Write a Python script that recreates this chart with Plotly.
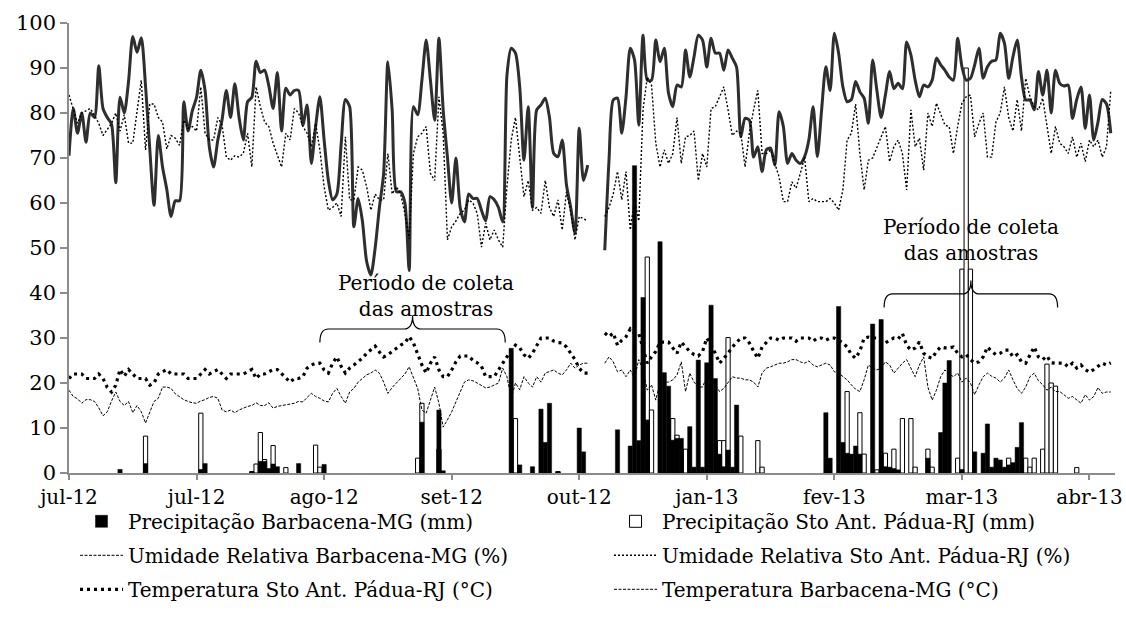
import plotly.graph_objects as go

# ---------------------------------------------------------------- axis labels
TICK_DAYS = [0, 30, 60, 90, 120, 150, 180, 210, 240]
TICK_LABELS = ["jul-12", "jul-12", "ago-12", "set-12", "out-12",
               "jan-13", "fev-13", "mar-13", "abr-13"]

# two observation periods (day index along the category axis)
P1_START = 0      # first period: days 0..122
P2_START = 126    # second period: days 126..245
X_MAX = 246

# ---------------------------------------------------------------- relative humidity (%)
UR_BARB_P1 = [
    70.5, 81, 75.5, 80, 73.5, 80, 79, 90.5, 81, 79,
    77.5, 64.5, 83.5, 80, 87, 97, 93.5, 96.7, 86, 72,
    59.5, 75, 68, 63, 57, 60.5, 60.5, 82.5, 76, 80.5,
    83.5, 89.5, 85, 72.5, 68, 74, 78.5, 85, 79, 86.5,
    79, 74, 82.5, 83.5, 91.5, 89, 89.5, 86, 81, 89,
    76, 85.5, 84, 85, 85, 77.3, 81.8, 68.8, 77, 83.6,
    74, 65, 60.7, 62, 73, 83, 81.4, 54.7, 61, 56,
    47, 44, 50, 59, 66.6, 91.4, 80.7, 62.5, 62.5, 60,
    45, 81.4, 79.6, 87.3, 96.2, 87.3, 78.4, 96.6, 80.7, 70.2,
    60, 70, 59, 55.8, 62, 61, 61, 58.4, 56, 61.4,
    60.7, 59, 55.8, 88.4, 94.4, 93.3, 85.8, 69.5, 81.4, 59,
    80.7, 81.8, 83.3, 79, 71, 70.3, 74, 64, 59, 53.3,
    76.6, 65, 68.4,
]
UR_BARB_P2 = [
    49.5, 69.5, 82.9, 83.3, 75.5, 83.6, 94.4, 91.8, 77.3, 97.3,
    87.3, 87.3, 96.2, 91.4, 94.4, 84.4, 81.4, 86.2, 85.8, 94,
    88, 92.5, 97.3, 96.2, 90.2, 96.6, 93.3, 93.3, 89.5, 94,
    92.2, 90.2, 74.7, 78.8, 78.4, 70.2, 72.5, 67, 71.8, 72.2,
    68.4, 80.3, 77, 68.8, 71, 69.5, 68.8, 70.3, 74, 81.4,
    70.3, 80.7, 90.3, 85, 97.7, 93.3, 85.8, 82.5, 83, 87,
    84.7, 83.3, 77.7, 91.8, 85, 79, 84, 89.2, 85.4, 86.6,
    85.4, 95.8, 92.9, 87.3, 83.6, 86.2, 85.8, 87.3, 92.2, 90.7,
    89.5, 88, 87.3, 96.6, 90.3, 87.3, 87.7, 90.7, 94.4, 87.7,
    90.3, 91.5, 91.8, 97.7, 95.5, 87.7, 92.5, 96.2, 88, 82.9,
    82.9, 80.7, 89.2, 84, 89.5, 80, 89.5, 86.6, 86, 86.2,
    78.8, 83, 85.8, 76.6, 84, 74, 78, 83, 82, 75.5,
]
UR_PADUA_P1 = [
    84, 80.7, 77.7, 80, 80.5, 81, 79.5, 77.7, 75, 76.5,
    77.7, 80, 76, 79.6, 73.3, 73.3, 80, 87.3, 71.8, 82,
    82, 79, 78, 72, 75, 74.4, 72.8, 78.4, 76.6, 77,
    76, 85.8, 75.5, 74, 74, 79, 77.3, 70.2, 69.5, 70.5,
    70.2, 71, 75.5, 68, 85.8, 81.4, 78, 77, 73.3, 70.5,
    68, 75.5, 74, 81, 80, 77, 75.5, 72.5, 77.7, 71.8,
    63.6, 58.4, 59, 60, 57, 74.7, 60.7, 60.7, 68, 67.3,
    63.6, 58.4, 62, 60.7, 60.7, 71, 62, 63.6, 62, 57.7,
    52, 71, 74.7, 75.5, 77, 66.6, 65, 83.6, 75.5, 51.8,
    54.7, 56, 57.7, 58.4, 60.7, 60, 57.7, 50.2, 55.5, 51.8,
    54, 51.8, 50.2, 63.6, 74, 79, 69.5, 61.4, 65, 58.4,
    59, 57.7, 65, 59, 57, 60.7, 54, 62.5, 58, 51.8,
    57, 56.5, 56,
]
UR_PADUA_P2 = [
    57, 59, 62, 67, 60.7, 67, 54, 60.7, 56, 80.7,
    88, 86.2, 73.3, 68, 71.8, 68.8, 71, 79, 68.8, 74.7,
    75, 76, 65, 71, 68, 81, 81.4, 83.6, 85.8, 80.7,
    75, 76, 75.5, 68, 75.5, 80.7, 85, 71, 71, 71.8,
    68.8, 65.8, 60.3, 60.3, 64.7, 63.3, 66.6, 70.2, 60.3, 61,
    60.3, 60.3, 60.3, 61, 60, 58.4, 62.9, 74, 75.5, 82,
    71, 62.9, 69.5, 70, 72.5, 74.7, 77, 69.2, 72.5, 74,
    71, 62.9, 80.7, 72.5, 74.4, 67.3, 80, 77, 82.2, 79.6,
    77.3, 77, 71, 77, 82.2, 83.6, 84, 74.7, 77.7, 80,
    70.2, 70.2, 78, 80, 85.8, 79, 76, 83, 76, 87.7,
    83.6, 81.4, 80.7, 83.3, 77, 71, 77, 73.3, 72.5, 71,
    74.7, 70.2, 73.3, 69.2, 74, 72.5, 74, 70.2, 72.5, 85,
]

# ---------------------------------------------------------------- temperature (°C)
TEMP_PADUA_P1 = [
    21, 22, 22, 22, 21, 21, 21, 22, 21, 19,
    18, 19.5, 23, 21.5, 23, 22, 21, 21, 21, 19.5,
    20, 22, 22.5, 23, 22, 22, 22, 22, 21, 21,
    21, 22, 23, 22, 22.5, 23, 22, 21, 22, 22,
    22, 22, 22.5, 23, 21, 22, 22, 22.5, 23, 23,
    22, 21, 20.2, 21, 21, 21.4, 23.3, 24, 24.4, 24.4,
    22.9, 22.2, 24.4, 25.8, 23.7, 22.2, 23.3, 24, 24.7, 25.5,
    26.6, 27.3, 28.2, 26.9, 25.8, 26.3, 27, 27.8, 28.4, 28.9,
    30.3, 28.9, 26.3, 24, 22.2, 24.4, 25.8, 22.9, 21.4, 21.4,
    22.9, 24.7, 26, 26, 26, 25, 24.5, 23.7, 21.4, 21.4,
    21.4, 22.9, 24.4, 26, 27.3, 28.4, 27.8, 26.3, 25.5, 26.6,
    28.4, 30, 30, 30, 29.3, 29, 28.9, 28, 26.6, 25.2,
    23.3, 22.2, 22.2,
]
TEMP_PADUA_P2 = [
    31.1, 30.3, 31.1, 28.4, 29.5, 30.3, 32, 31, 31, 27.8,
    24.4, 25.8, 27, 29.1, 29.1, 29.1, 27.8, 26.6, 29.1, 28,
    27, 26.3, 26, 27, 30, 28.4, 26.6, 24.4, 25.5, 26.6,
    28, 29.1, 30, 30, 28.9, 27.1, 25.5, 28, 29.1, 30,
    30, 29.5, 30, 30, 30, 29.3, 30, 30, 30, 29.3,
    30, 30, 29.5, 30, 30, 29.5, 28.9, 28, 26.3, 25.5,
    27.1, 30, 30.2, 30, 30, 29.3, 28.9, 29.5, 30, 29.8,
    31, 28.4, 27.3, 27.8, 29.1, 26.6, 25.8, 25.5, 27, 28,
    27.8, 27.8, 28, 26.6, 25.8, 26.3, 25.2, 24.4, 24.7, 25.8,
    28, 27, 26.3, 26.6, 27.3, 27.3, 25.8, 26.3, 24.7, 24.4,
    26.3, 28, 25.8, 25.2, 26, 24.5, 24.4, 24.4, 24.4, 23.6,
    24.4, 23.3, 24, 23, 22.4, 23, 23.7, 24.4, 24, 24.5,
]
TEMP_BARB_P1 = [
    18.4, 17, 16.5, 15.5, 16.3, 16.3, 15.9, 14.5, 12.7, 13.6,
    16, 18, 15.9, 15, 15.9, 13.4, 15, 13.6, 11.1, 13.6,
    15.9, 16.6, 19.1, 19.1, 18.8, 17.6, 17, 16.3, 15.9, 15.6,
    15.5, 16, 16.3, 16.8, 17, 16.6, 14, 13.6, 14, 13.4,
    14, 14.4, 14.8, 15, 15.6, 15, 15, 15.6, 14.4, 14.8,
    15, 15.2, 15.3, 15.5, 15.9, 15.8, 16.8, 17.7, 17, 16.6,
    16, 15.8, 17.7, 18.8, 17, 15.5, 18, 18.8, 20.2, 21,
    21.8, 22.2, 22.9, 22.2, 20.2, 17.7, 19, 20, 21, 22,
    23.6, 21.1, 18.8, 14, 13.3, 16.2, 19.1, 15.5, 10.2, 11.8,
    13.6, 15.8, 18, 20.2, 20.7, 20.5, 20, 19.5, 18.9, 19.1,
    19.5, 20, 23.3, 21.4, 16.6, 20, 18.5, 21.4, 20, 19.1,
    21.4, 20.2, 22.2, 22.5, 22.9, 22.2, 21.8, 22.9, 24.4, 23.3,
    24, 24.4, 24.4,
]
TEMP_BARB_P2 = [
    24.4, 25.8, 24.7, 22.5, 22.9, 21.4, 22.9, 21.1, 25.2, 22.9,
    18.4, 19.6, 16.2, 20.2, 20.2, 20.2, 20.7, 21.8, 24.7, 18.1,
    22.2, 20.2, 19.1, 19.1, 21.4, 21.1, 19.6, 18.1, 18.8, 20.2,
    21.4, 21.1, 21.1, 20.7, 20.7, 20.2, 19.1, 22.2, 23.3, 23.6,
    24, 24.4, 24.4, 24.7, 25.2, 25.2, 24.7, 24.4, 24.9, 24,
    23.6, 24, 24.4, 24, 22.5, 22.2, 21.5, 20.7, 19.6, 18.6,
    18.1, 20.7, 24, 23.3, 22.9, 23.3, 24.7, 24, 22.2, 23.3,
    24.4, 25.2, 23.3, 21.4, 24, 25.8, 19.1, 16.2, 18.4, 21.4,
    22.9, 22, 21.4, 22.2, 20.2, 21.1, 20, 17.4, 19.6, 21.4,
    22.2, 21.5, 21.1, 20.2, 21.1, 22.9, 20.7, 18.8, 17.7, 19.1,
    21.4, 22.2, 20.5, 19.6, 18.4, 19.1, 18.1, 18.1, 17.4, 16.6,
    17, 16.2, 15.5, 17.4, 16.2, 17, 19, 17.7, 18, 18,
]

# ---------------------------------------------------------------- daily rainfall (mm)
RAIN_BARB_DAY = [12, 18, 31, 32, 43, 45, 46, 47, 48, 49, 54, 60, 83, 87, 88,
                 104, 106, 109, 111, 112, 113, 115, 120, 121,
                 129, 132, 133, 134, 135, 136, 139, 140, 141, 142, 143, 144,
                 146, 147, 148, 149, 150, 151, 152, 153, 154, 155, 156, 157,
                 178, 179, 181, 182, 183, 184, 185, 186, 189, 191, 192, 193,
                 194, 195, 202, 205, 206, 207, 210, 213, 215, 216, 217, 218,
                 219, 220, 221, 222, 223, 224]
RAIN_BARB_MM = [0.8, 2.1, 0.8, 2.1, 0.3, 2.6, 2.6, 1.0, 2.0, 1.4, 2.1, 1.9, 11.3, 14, 0.5,
                27.7, 1.8, 1.4, 14.2, 6.8, 15.5, 0.3, 10, 4.7,
                9.6, 6, 68.3, 7.2, 39, 11.8, 51.4, 22.3, 19.3, 7.3, 7.7, 7.7,
                10.3, 1.3, 25.1, 1.3, 24.5, 37.3, 21, 4.2, 1.4, 5.1, 1.3, 15.1,
                13.4, 3.3, 37, 6.8, 4.4, 4.2, 6, 4.2, 33.1, 34.1, 1.4, 1.3,
                1.0, 0.7, 3.3, 9, 20, 25, 0.8, 4.7, 4.4, 10.9, 1.3, 3.3,
                2.9, 1.3, 1.8, 2.3, 5.7, 11.2]

RAIN_PADUA_DAY = [18, 31, 43, 44, 45, 46, 48, 51, 58, 59, 82, 83, 87, 105, 115,
                  136, 137, 142, 143, 145, 153, 154, 155, 158, 162, 163,
                  183, 186, 187, 190, 192, 194, 196, 198, 199, 202, 203,
                  209, 210, 211, 212, 221, 225, 226, 227, 229, 230, 231, 232, 237]
RAIN_PADUA_MM = [8.2, 13.3, 0.3, 2.0, 9.0, 3.0, 6.1, 1.2, 6.2, 1.3, 3.3, 15.5, 5.3, 12.1, 0.3,
                 48, 14, 12.1, 8.4, 5.3, 7.2, 7.2, 30.1, 8.2, 7.2, 1.3,
                 18.1, 13.4, 4.2, 0.7, 4.4, 5.3, 12.1, 12.1, 1.3, 5.3, 1.3,
                 3.3, 45.3, 90, 45.3, 3.3, 3.3, 1.3, 3.3, 5.3, 24.2, 20, 19.3, 1.2]

# sampling periods marked with a brace: (first day, last day, brace height)
SAMPLING = [(59.0, 102.6, 32.0), (191.7, 232.5, 39.8)]
SAMPLING_LABEL = "Período de coleta<br>das amostras"

FONT = "DejaVu Serif"


def two_periods(p1, p2):
    """Join both periods on one day axis, leaving a break between them."""
    x = list(range(P1_START, P1_START + len(p1)))
    x += [P1_START + len(p1) + 1]
    x += list(range(P2_START, P2_START + len(p2)))
    y = list(p1) + [None] + list(p2)
    return x, y


fig = go.Figure()

# rainfall columns: Pádua (outlined) behind, Barbacena (solid) in front
fig.add_trace(go.Bar(
    x=RAIN_PADUA_DAY, y=RAIN_PADUA_MM, width=1.0,
    marker=dict(color="white", line=dict(color="black", width=1)),
    name="Precipitação Sto Ant. Pádua-RJ (mm)",
    legend="legend2", legendgroup="g2", legendrank=1,
))
fig.add_trace(go.Bar(
    x=RAIN_BARB_DAY, y=RAIN_BARB_MM, width=1.0,
    marker=dict(color="black", line=dict(color="black", width=0.5)),
    name="Precipitação Barbacena-MG (mm)",
    legend="legend", legendgroup="g1", legendrank=1,
))

# relative humidity, Barbacena (smoothed heavy line)
x, y = two_periods(UR_BARB_P1, UR_BARB_P2)
fig.add_trace(go.Scatter(
    x=x, y=y, mode="lines", connectgaps=False, showlegend=False,
    line=dict(color="#2e2e2e", width=3, shape="spline", smoothing=0.7),
    name="Umidade Relativa Barbacena-MG (%)", hoverinfo="skip",
))
fig.add_trace(go.Scatter(
    x=[None], y=[None], mode="lines",
    line=dict(color="black", width=1, dash="3px,1.5px"),
    name="Umidade Relativa Barbacena-MG (%)",
    legend="legend", legendgroup="g3", legendrank=2,
))

# relative humidity, Pádua
x, y = two_periods(UR_PADUA_P1, UR_PADUA_P2)
fig.add_trace(go.Scatter(
    x=x, y=y, mode="lines", connectgaps=False,
    line=dict(color="black", width=1.4, dash="2px,2px"),
    name="Umidade Relativa Sto Ant. Pádua-RJ (%)",
    legend="legend2", legendgroup="g4", legendrank=2,
))

# temperature, Pádua (round dots)
x, y = two_periods(TEMP_PADUA_P1, TEMP_PADUA_P2)
fig.add_trace(go.Scatter(
    x=x, y=y, mode="lines", connectgaps=False,
    line=dict(color="black", width=3.2, dash="3px,4px"),
    name="Temperatura Sto Ant. Pádua-RJ (°C)",
    legend="legend", legendgroup="g5", legendrank=3,
))

# temperature, Barbacena
x, y = two_periods(TEMP_BARB_P1, TEMP_BARB_P2)
fig.add_trace(go.Scatter(
    x=x, y=y, mode="lines", connectgaps=False,
    line=dict(color="black", width=1, dash="3px,1.5px"),
    name="Temperatura Barbacena-MG (°C)",
    legend="legend2", legendgroup="g6", legendrank=3,
))

# braces over the sampling periods
shapes = []
for x0, x1, yb in SAMPLING:
    xc = (x0 + x1) / 2
    dx, dy = 2.0, 3.0
    path = (f"M {x0},{yb - dy} Q {x0},{yb} {x0 + dx},{yb} "
            f"L {xc - dx},{yb} Q {xc},{yb} {xc},{yb + dy} "
            f"Q {xc},{yb} {xc + dx},{yb} "
            f"L {x1 - dx},{yb} Q {x1},{yb} {x1},{yb - dy}")
    shapes.append(dict(type="path", path=path, xref="x", yref="y",
                       line=dict(color="black", width=1.2)))

annotations = [
    dict(x=84.0, y=39.3, xref="x", yref="y", text=SAMPLING_LABEL,
         showarrow=False, align="center",
         font=dict(family=FONT, size=20, color="black")),
    dict(x=212.1, y=51.8, xref="x", yref="y", text=SAMPLING_LABEL,
         showarrow=False, align="center",
         font=dict(family=FONT, size=20, color="black")),
]

AXIS_GREY = "#8c8c8c"
legend_common = dict(
    xanchor="left", yanchor="top", orientation="v",
    font=dict(family=FONT, size=20, color="black"),
    itemwidth=43, tracegroupgap=5, bgcolor="rgba(0,0,0,0)",
    traceorder="grouped",
)

fig.update_layout(
    width=1126, height=623, autosize=False,
    margin=dict(l=69, r=11, t=23, b=150, autoexpand=False),
    paper_bgcolor="white", plot_bgcolor="white",
    barmode="overlay",
    showlegend=True,
    legend=dict(x=(75 - 69) / 1046, y=-0.064, **legend_common),
    legend2=dict(x=(609 - 69) / 1046, y=-0.064, **legend_common),
    shapes=shapes,
    annotations=annotations,
    xaxis=dict(
        range=[0, X_MAX], tickmode="array", tickvals=TICK_DAYS, ticktext=TICK_LABELS,
        showgrid=False, zeroline=False, showline=True, linecolor=AXIS_GREY, linewidth=1.5,
        ticks="outside", ticklen=5, tickwidth=1.5, tickcolor=AXIS_GREY,
        ticklabeloverflow="allow", automargin=False,
        tickfont=dict(family=FONT, size=20, color="black"),
    ),
    yaxis=dict(
        range=[0, 100], dtick=10, tick0=0, automargin=False,
        showgrid=False, zeroline=False, showline=True, linecolor=AXIS_GREY, linewidth=1.5,
        ticks="outside", ticklen=7, tickwidth=1.5, tickcolor=AXIS_GREY,
        tickfont=dict(family=FONT, size=21, color="black"),
    ),
)

fig.write_html("out.html")
